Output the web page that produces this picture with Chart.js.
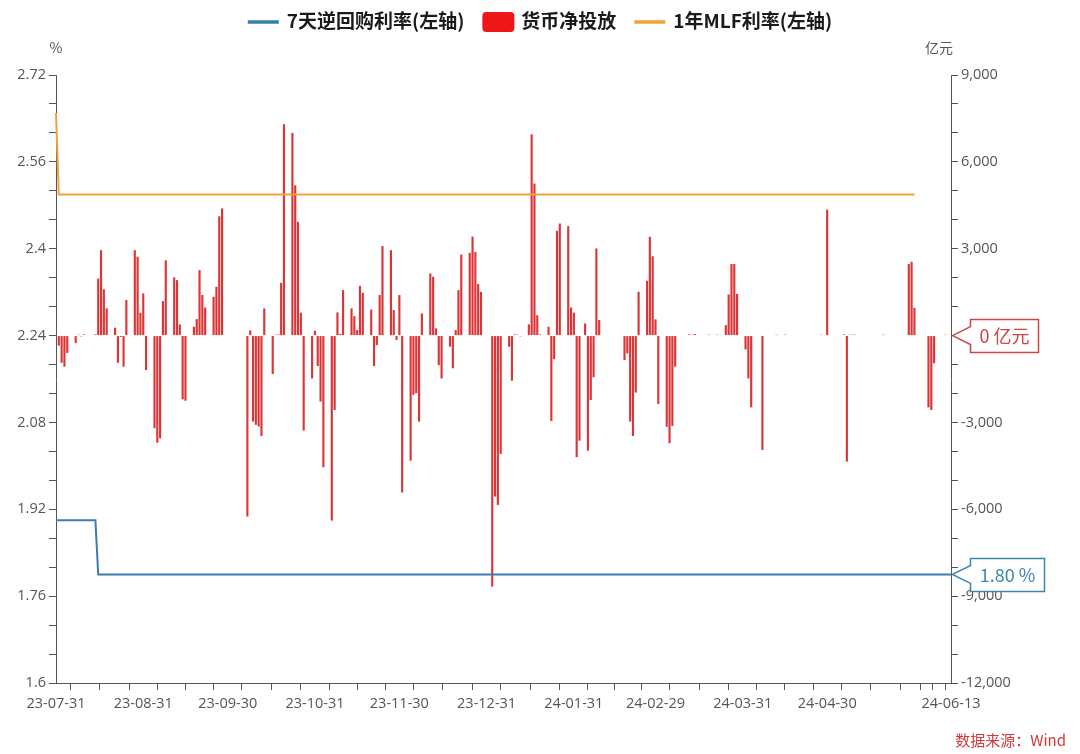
<!DOCTYPE html>
<html><head><meta charset="utf-8">
<script src="https://cdn.jsdelivr.net/npm/chart.js@4.4.1/dist/chart.umd.min.js"></script>
<style>html,body{margin:0;padding:0;background:#fff;}#wrap{width:1080px;height:754px;}</style>
</head><body><div id="wrap"><canvas id="c" width="1080" height="754"></canvas></div>
<script>
// ---------- data ----------
const startDate = '2023-07-31';
const endDate = '2024-06-13';
const seriesNames = ['7天逆回购利率(左轴)', '货币净投放', '1年MLF利率(左轴)'];

const flowDates = [
'2023-07-31','2023-08-01','2023-08-02','2023-08-03','2023-08-04','2023-08-07','2023-08-08','2023-08-09','2023-08-10','2023-08-14','2023-08-15','2023-08-16','2023-08-17','2023-08-18','2023-08-21','2023-08-22','2023-08-23','2023-08-24','2023-08-25','2023-08-28','2023-08-29','2023-08-30','2023-08-31',
'2023-09-01','2023-09-04','2023-09-05','2023-09-06','2023-09-07','2023-09-08','2023-09-11','2023-09-12','2023-09-13','2023-09-14','2023-09-15','2023-09-18','2023-09-19','2023-09-20','2023-09-21','2023-09-22','2023-09-25','2023-09-26','2023-09-27','2023-09-28',
'2023-10-07','2023-10-08','2023-10-09','2023-10-10','2023-10-11','2023-10-12','2023-10-13','2023-10-16','2023-10-17','2023-10-18','2023-10-19','2023-10-20','2023-10-23','2023-10-24','2023-10-25','2023-10-26','2023-10-27','2023-10-30','2023-10-31',
'2023-11-01','2023-11-02','2023-11-03','2023-11-06','2023-11-07','2023-11-08','2023-11-09','2023-11-10','2023-11-13','2023-11-14','2023-11-15','2023-11-16','2023-11-17','2023-11-20','2023-11-21','2023-11-22','2023-11-23','2023-11-24','2023-11-27','2023-11-28','2023-11-29','2023-11-30',
'2023-12-01','2023-12-04','2023-12-05','2023-12-06','2023-12-07','2023-12-08','2023-12-11','2023-12-12','2023-12-13','2023-12-14','2023-12-15','2023-12-18','2023-12-19','2023-12-20','2023-12-21','2023-12-22','2023-12-25','2023-12-26','2023-12-27','2023-12-28','2023-12-29',
'2024-01-02','2024-01-03','2024-01-04','2024-01-05','2024-01-08','2024-01-09','2024-01-10','2024-01-11','2024-01-12','2024-01-15','2024-01-16','2024-01-17','2024-01-18','2024-01-19','2024-01-22','2024-01-23','2024-01-24','2024-01-25','2024-01-26','2024-01-29','2024-01-30','2024-01-31',
'2024-02-01','2024-02-02','2024-02-04','2024-02-05','2024-02-06','2024-02-07','2024-02-08','2024-02-09','2024-02-18','2024-02-19','2024-02-20','2024-02-21','2024-02-22','2024-02-23','2024-02-26','2024-02-27','2024-02-28','2024-02-29',
'2024-03-01','2024-03-04','2024-03-05','2024-03-06','2024-03-07','2024-03-12','2024-03-13','2024-03-14','2024-03-19','2024-03-22','2024-03-25','2024-03-26','2024-03-27','2024-03-28','2024-03-29',
'2024-04-01','2024-04-02','2024-04-03','2024-04-07','2024-04-12','2024-04-15','2024-04-28','2024-04-30',
'2024-05-06','2024-05-07','2024-05-08','2024-05-09','2024-05-10','2024-05-20','2024-05-29','2024-05-30','2024-05-31',
'2024-06-05','2024-06-06','2024-06-07','2024-06-11'
];
const flowValues = [
50,-345,-940,-1075,-600,-260,30,-30,40,40,1970,2950,1600,940,270,-940,-50,-1075,1225,2950,2720,790,1455,
-1190,-3200,-3700,-3550,1190,2600,2010,1915,385,-2200,-2250,305,570,2260,1400,970,1340,1685,4120,4390,
-6250,180,-2970,-3080,-3140,-3465,940,-1330,30,40,1820,7300,7000,5190,3930,790,-3280,-1480,165,
-1050,-2280,-4550,-6390,-2570,800,60,1570,940,670,190,1720,1480,900,-1050,-330,1400,3090,2950,880,-155,1400,
-5420,-4320,-2050,-1990,-2970,765,2145,2030,250,-1020,-1480,-385,-1130,190,1570,2800,2860,3420,2890,1780,1510,
-8670,-5560,-5850,-4090,-385,-1560,40,30,-30,385,6950,5250,705,40,305,-2950,-820,3615,3870,3780,970,790,
-4200,-3630,420,-3975,-2225,-1440,3010,535,-845,-615,-2970,-3470,-1970,1510,1890,3410,2740,560,
-2360,-3150,-3720,-3120,-1075,40,30,50,30,30,360,1420,2470,2470,1440,
-475,-1480,-2480,-3950,30,30,30,4350,
40,-4350,30,30,30,30,2470,2550,960,
-2480,-2570,-960,30
];

const repoDates = ['2023-07-31','2023-08-14','2023-08-15','2024-06-13'];
const repoValues = [1.90, 1.90, 1.80, 1.80];

const mlfDates = ['2023-07-31','2023-08-01','2024-05-31'];
const mlfValues = [2.65, 2.50, 2.50];

const xTickDates  = ['2023-07-31','2023-08-31','2023-09-30','2023-10-31','2023-11-30','2023-12-31','2024-01-31','2024-02-29','2024-03-31','2024-04-30','2024-05-31','2024-06-13'];
const xTickLabels = ['23-07-31','23-08-31','23-09-30','23-10-31','23-11-30','23-12-31','24-01-31','24-02-29','24-03-31','24-04-30','','24-06-13'];

const leftTickLabels  = ['1.6','1.76','1.92','2.08','2.24','2.4','2.56','2.72'];
const rightTickLabels = ['-12,000','-9,000','-6,000','-3,000','0','3,000','6,000','9,000'];
const leftMin = 1.6, leftMax = 2.72, rightMin = -12000, rightMax = 9000;

// ---------- build table ----------
const DAY = 86400000;
const t0 = Date.parse(startDate + 'T00:00:00Z');
const dayIdx = s => Math.round((Date.parse(s + 'T00:00:00Z') - t0) / DAY);
const nDays = dayIdx(endDate) + 1;
const labels = [];
for (let i = 0; i < nDays; i++) {
  const d = new Date(t0 + i * DAY);
  labels.push(String(d.getUTCFullYear()).slice(2) + '-' + String(d.getUTCMonth() + 1).padStart(2, '0') + '-' + String(d.getUTCDate()).padStart(2, '0'));
}
function toSeries(dates, vals) {
  const arr = new Array(nDays).fill(null);
  dates.forEach((d, i) => { arr[dayIdx(d)] = vals[i]; });
  return arr;
}
const flowData = toSeries(flowDates, flowValues);
const repoData = toSeries(repoDates, repoValues);
const mlfData = toSeries(mlfDates, mlfValues);

// x ticks: major at month ends, two minor ticks in between
const majorIdx = xTickDates.map(dayIdx);
const majorLabel = {};
majorIdx.forEach((v, i) => { majorLabel[v] = xTickLabels[i]; });
const xTickIdx = [];
for (let i = 0; i < majorIdx.length; i++) {
  xTickIdx.push(majorIdx[i]);
  if (i < majorIdx.length - 1) {
    const a = majorIdx[i], b = majorIdx[i + 1];
    xTickIdx.push(Math.round(a + (b - a) / 3), Math.round(a + 2 * (b - a) / 3));
  }
}

const BLUE = '#3a7eaa', ORANGE = '#f0a23c', RED = '#db3538', LEGEND_RED = '#ee1616';
const TICK_FONT = { family: '"Open Sans", "Noto Sans", sans-serif', size: 14.5 };
const TICK_COLOR = '#555';
const AXIS_COLOR = '#555';

function yTicks(scale, min, max) {
  const n = 21, out = [];
  for (let i = 0; i <= n; i++) out.push({ value: min + (max - min) * i / n });
  scale.ticks = out;
}

const overlay = {
  id: 'overlay',
  afterDraw(chart) {
    const ctx = chart.ctx;
    const ca = chart.chartArea;
    ctx.save();
    // legend
    const items = [
      { label: seriesNames[0], type: 'line', color: BLUE },
      { label: seriesNames[1], type: 'box', color: LEGEND_RED },
      { label: seriesNames[2], type: 'line', color: ORANGE }
    ];
    ctx.font = 'bold 19px "Noto Sans CJK SC", sans-serif';
    const mw = 31, gap = 8, itemGap = 18;
    let total = 0;
    items.forEach((it, i) => { it.w = ctx.measureText(it.label).width; total += mw + gap + it.w + (i ? itemGap : 0); });
    let x = 540 - total / 2;
    const ly = 21;
    ctx.textBaseline = 'middle';
    ctx.textAlign = 'left';
    items.forEach((it) => {
      if (it.type === 'line') {
        ctx.strokeStyle = it.color; ctx.lineWidth = 3.5;
        ctx.beginPath(); ctx.moveTo(x, ly + 1); ctx.lineTo(x + mw, ly + 1); ctx.stroke();
      } else {
        ctx.fillStyle = it.color;
        ctx.beginPath();
        if (ctx.roundRect) ctx.roundRect(x, ly - 9, mw + 1, 20, 4); else ctx.rect(x, ly - 9, mw + 1, 20);
        ctx.fill();
      }
      ctx.fillStyle = '#1a1a1a';
      ctx.fillText(it.label, x + mw + gap, ly);
      x += mw + gap + it.w + itemGap;
    });

    // axis units
    ctx.font = '14px "Noto Sans CJK SC", sans-serif';
    ctx.fillStyle = '#555';
    ctx.textAlign = 'center';
    ctx.fillText('%', ca.left, 48);
    ctx.fillText('亿元', ca.right - 12, 48);

    // tags on right axis
    const y1 = chart.scales.y1, y = chart.scales.y;
    function tag(yPix, text, color, boxW) {
      const tip = ca.right + 1.5, bx = tip + 18;
      ctx.beginPath();
      ctx.moveTo(tip, yPix);
      ctx.lineTo(bx, yPix - 9);
      ctx.lineTo(bx, yPix - 16);
      ctx.lineTo(bx + boxW, yPix - 16);
      ctx.lineTo(bx + boxW, yPix + 17);
      ctx.lineTo(bx, yPix + 17);
      ctx.lineTo(bx, yPix + 9);
      ctx.closePath();
      ctx.fillStyle = '#fff'; ctx.fill();
      ctx.strokeStyle = color; ctx.lineWidth = 1.5; ctx.stroke();
      ctx.fillStyle = color;
      ctx.font = '18px "Noto Sans CJK SC", sans-serif';
      ctx.textAlign = 'center'; ctx.textBaseline = 'middle';
      ctx.fillText(text, bx + boxW / 2, yPix + 1);
    }
    tag(y1.getPixelForValue(0), '0 亿元', '#d04343', 68);
    const lastRepo = repoValues[repoValues.length - 1];
    tag(y.getPixelForValue(lastRepo), lastRepo.toFixed(2) + ' %', '#3f86ad', 74);

    // source
    ctx.font = '15px "Noto Sans CJK SC", sans-serif';
    ctx.fillStyle = '#cf3a3a';
    ctx.textAlign = 'right'; ctx.textBaseline = 'middle';
    ctx.fillText('数据来源：Wind', 1066, 740);
    ctx.restore();
  }
};

new Chart(document.getElementById('c'), {
  data: {
    labels: labels,
    datasets: [
      { type: 'line', label: seriesNames[0], data: repoData, yAxisID: 'y', borderColor: BLUE, borderWidth: 2, pointRadius: 0, spanGaps: true, tension: 0, order: 0 },
      { type: 'line', label: seriesNames[2], data: mlfData, yAxisID: 'y', borderColor: ORANGE, borderWidth: 2, pointRadius: 0, spanGaps: true, tension: 0, order: 0 },
      { type: 'bar', label: seriesNames[1], data: flowData, yAxisID: 'y1', backgroundColor: RED, borderWidth: 0, categoryPercentage: 0.9, barPercentage: 0.85, order: 1 }
    ]
  },
  options: {
    responsive: false,
    animation: false,
    devicePixelRatio: 1,
    layout: { padding: { top: 75, left: 0, right: 0, bottom: 0 } },
    plugins: { legend: { display: false }, tooltip: { enabled: false }, title: { display: false } },
    scales: {
      x: {
        type: 'category', offset: false,
        afterBuildTicks: s => { s.ticks = xTickIdx.map(v => ({ value: v })); },
        afterFit: s => { s.height = 71; },
        ticks: { autoSkip: false, maxRotation: 0, minRotation: 0, font: TICK_FONT, color: TICK_COLOR, padding: 5,
          callback: v => (majorLabel[v] !== undefined ? majorLabel[v] : '') },
        grid: { display: true, drawOnChartArea: false, drawTicks: true, tickLength: 7, color: AXIS_COLOR },
        border: { display: true, color: AXIS_COLOR }
      },
      y: {
        type: 'linear', position: 'left', min: leftMin, max: leftMax,
        afterBuildTicks: s => yTicks(s, leftMin, leftMax),
        afterFit: s => { s.width = 56; },
        ticks: { font: TICK_FONT, color: TICK_COLOR, padding: 3,
          callback: (v, i) => (i % 3 === 0 ? leftTickLabels[i / 3] : '') },
        grid: { display: true, drawOnChartArea: false, drawTicks: true, tickLength: 7, color: AXIS_COLOR },
        border: { display: true, color: AXIS_COLOR }
      },
      y1: {
        type: 'linear', position: 'right', min: rightMin, max: rightMax,
        afterBuildTicks: s => yTicks(s, rightMin, rightMax),
        afterFit: s => { s.width = 129; },
        ticks: { font: TICK_FONT, color: TICK_COLOR, padding: 3,
          callback: (v, i) => (i % 3 === 0 ? rightTickLabels[i / 3] : '') },
        grid: { display: true, drawOnChartArea: false, drawTicks: true, tickLength: 7, color: AXIS_COLOR },
        border: { display: true, color: AXIS_COLOR }
      }
    }
  },
  plugins: [overlay]
});
</script>
</body></html>
